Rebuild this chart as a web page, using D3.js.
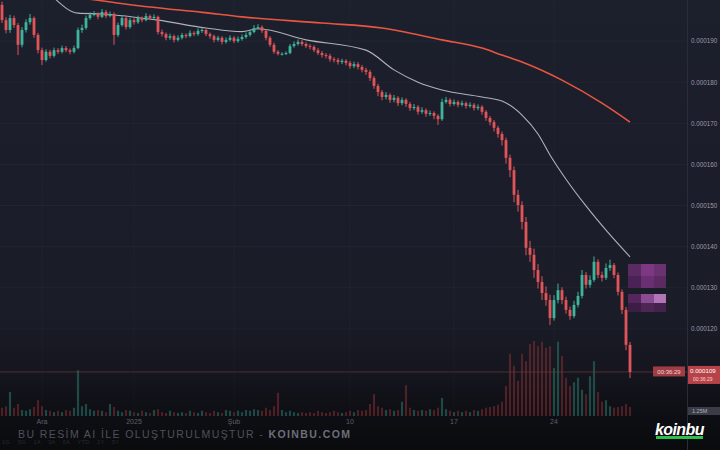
<!DOCTYPE html>
<html><head><meta charset="utf-8">
<script src="https://cdn.jsdelivr.net/npm/d3@7"></script>
<style>html,body{margin:0;padding:0;background:#0b0c10;}svg{display:block;}</style>
</head><body>
<svg id="c" width="720" height="450"></svg>
<script>
// ---- data (price in units of 1e-6) ----
const firstOpen = 198.8;
const closes = [195.1,192.7,195.6,193.9,189.1,192.7,194.6,195.6,191.5,187.8,
185.4,187.4,186.4,187.8,187.4,188.3,187.8,187.4,188.3,192.7,
193.2,195.6,196.4,196.6,195.9,197.1,196.1,196.6,191.5,193.9,
195.6,193.4,195.1,194.6,195.6,195.1,196.1,195.6,195.9,192.2,
191.7,190.8,191.2,190.3,190.8,191.5,191.2,192.0,191.7,192.5,
192.7,191.7,191.2,190.3,190.8,189.8,190.3,190.8,190.0,190.5,
191.0,191.5,192.2,193.2,193.4,192.5,190.8,189.1,187.4,186.9,
186.9,187.1,188.8,189.3,189.8,189.3,188.8,188.6,187.8,187.1,
186.6,186.4,185.6,185.4,184.9,185.2,184.7,183.9,184.4,183.7,
183.0,182.5,181.0,179.1,177.6,176.4,176.9,175.7,176.2,174.9,
175.7,174.7,173.7,174.0,172.8,173.2,172.3,172.5,171.8,171.0,
175.2,175.7,174.7,175.2,174.5,174.9,174.2,174.5,173.7,174.0,
172.8,171.3,170.3,168.9,167.4,165.9,161.6,158.6,152.6,150.1,
146.0,139.7,138.0,134.3,131.4,128.7,127.0,122.6,127.0,129.4,
127.0,124.6,123.1,125.8,128.0,133.1,130.7,131.9,136.3,133.1,
132.4,134.8,135.5,133.1,129.0,124.6,116.1,109.5];
const highs = [199.6,195.8,196.4,196.2,194.4,193.4,195.3,196.6,196.0,192.0,
188.4,188.0,187.9,188.4,188.3,188.9,188.8,188.2,188.9,193.3,
194.0,196.2,197.0,197.3,197.0,197.8,197.6,197.2,197.0,194.5,
196.2,196.0,195.7,195.6,196.2,196.0,196.8,196.5,196.5,196.2,
192.8,192.1,191.8,191.6,191.4,192.0,191.9,192.6,192.4,193.1,
193.3,193.0,192.1,191.6,191.3,191.2,190.9,191.4,191.2,191.1,
191.6,192.1,192.8,193.9,194.1,193.8,192.9,191.2,189.6,187.8,
187.3,187.5,189.3,189.9,190.4,190.3,189.7,189.3,189.0,188.3,
187.6,187.1,186.9,186.1,185.9,185.7,185.6,185.2,185.0,184.9,
184.2,183.5,183.0,181.5,179.6,178.1,177.6,177.3,176.9,176.6,
176.3,176.1,175.2,174.7,174.4,173.9,173.6,173.1,172.9,172.2,
176.0,176.4,176.1,175.8,175.6,175.5,175.3,175.1,174.9,174.6,
174.4,173.2,171.8,170.8,169.4,168.0,166.5,162.4,159.5,153.8,
151.0,147.2,141.4,139.5,135.8,132.8,130.3,128.3,128.2,131.0,
130.1,127.8,125.4,126.8,129.0,134.3,133.8,133.0,137.6,136.9,
133.9,135.9,136.8,136.0,133.7,129.6,125.3,116.8];
const lows = [194.4,191.9,192.0,193.2,186.6,188.5,192.1,194.0,190.8,187.0,
184.2,185.0,185.8,186.0,186.9,187.0,187.3,186.8,187.0,188.0,
192.0,192.8,195.2,196.0,195.3,195.6,195.6,195.8,189.1,191.0,
193.5,192.8,193.0,194.0,194.2,194.6,194.8,195.1,195.2,191.6,
191.1,190.2,190.3,189.7,189.9,190.4,190.7,190.9,191.2,191.3,
192.0,191.2,190.6,189.7,189.9,189.2,189.4,189.9,189.5,189.6,
190.1,190.6,191.1,191.9,192.8,192.0,190.2,188.6,186.9,186.5,
186.5,186.6,186.8,188.4,188.9,188.8,188.3,188.0,187.3,186.6,
186.0,185.8,185.0,184.8,184.3,184.4,184.1,183.3,183.4,183.1,
182.4,181.8,180.3,178.4,176.6,175.6,175.8,175.0,175.1,174.2,
174.4,174.0,173.0,173.2,172.1,172.3,171.6,171.8,171.0,169.6,
170.6,174.8,174.1,174.3,173.9,174.1,173.6,173.8,173.1,173.2,
172.1,170.6,169.5,168.0,166.5,164.6,160.2,156.9,150.8,148.5,
144.2,137.9,136.3,132.4,129.8,127.0,125.6,120.9,122.0,126.2,
126.0,123.7,122.2,122.6,125.2,127.4,129.8,130.0,131.4,132.3,
131.5,131.9,134.1,132.3,128.1,123.6,114.8,108.0];
const volumes = [11,13,32,11,16,8,7,9,12,21,
13,8,7,5,7,5,8,7,11,61,
13,16,9,7,8,7,5,16,12,7,
5,8,7,5,4,7,5,4,8,9,
5,4,7,5,4,5,4,7,5,4,
7,5,4,7,5,4,8,7,5,7,
5,8,7,9,8,7,11,8,13,31,
8,5,7,5,4,5,4,5,4,7,
5,4,5,7,5,4,5,7,5,8,
7,8,16,29,13,11,8,9,7,8,
19,41,11,8,7,8,7,9,8,11,
24,9,7,5,7,5,7,5,8,7,
9,11,12,13,15,19,40,83,67,47,
83,73,96,100,93,99,91,93,64,99,
80,51,40,45,51,35,29,53,73,32,
19,21,13,11,12,13,16,12];
const maFastIdx = [13,19,25,39,51,60,64,76,91,98,104,110,120,125,130,134,137,141,146,151,157];
const maFastVal = [200.5,196.8,196.6,195.1,193.2,192.3,193.0,190.3,187.8,183.0,180.0,178.1,176.4,175.4,172.0,167.4,162.3,156.4,149.9,144.0,137.5];
const maSlowIdx = [22,37,50,60,80,95,110,120,125,130,140,150,157];
const maSlowVal = [200.2,198.3,197.0,195.9,194.4,193.2,190.3,188.3,186.6,184.9,180.5,174.9,170.3];
const priceTicks = [190,180,170,160,150,140,130,120];
const timeTickIdx = [10,33,58,87,113,138];
const timeTickLabels = ["Ara","2025","Şub","10","17","24"];
const lastPrice = 109.5;
const countdown = "00:36:29";
const volumeLabel = "1.25M";

// ---- layout ----
const svg = d3.select("#c");
const plotRight = 687;
const x = d3.scaleLinear().domain([0, closes.length - 1]).range([2, 630]);
const y = d3.scaleLinear().domain([200, 100]).range([0, 411]);
const yv = d3.scaleLinear().domain([0, 100]).range([416, 341]);
const UP = "#3db49b", DOWN = "#e0545a";
const fmt = d => (d * 1e-6).toFixed(6);

const defs = svg.append("defs");
const bg = defs.append("linearGradient").attr("id","bg").attr("gradientUnits","userSpaceOnUse")
  .attr("x1",0).attr("y1",0).attr("x2",0).attr("y2",450);
[[0,"#1c1f2c"],[0.70,"#1a1c28"],[0.84,"#14151d"],[0.92,"#0e0f14"],[1,"#0a0b0e"]]
  .forEach(([o,c]) => bg.append("stop").attr("offset",o).attr("stop-color",c));
defs.append("filter").attr("id","soft").append("feGaussianBlur").attr("stdDeviation",0.45);
defs.append("clipPath").attr("id","clip").append("rect").attr("x",0).attr("y",0).attr("width",plotRight).attr("height",418);

svg.append("rect").attr("width",720).attr("height",450).attr("fill","url(#bg)");

// grid
const grid = svg.append("g");
grid.selectAll("line.h").data(priceTicks).join("line")
  .attr("x1",0).attr("x2",plotRight).attr("y1",d=>y(d)).attr("y2",d=>y(d))
  .attr("stroke","#ffffff").attr("stroke-opacity",0.03);
grid.selectAll("line.v").data(timeTickIdx).join("line")
  .attr("x1",d=>x(d)).attr("x2",d=>x(d)).attr("y1",0).attr("y2",416)
  .attr("stroke","#ffffff").attr("stroke-opacity",0.025);
svg.append("line").attr("x1",plotRight+0.5).attr("x2",plotRight+0.5).attr("y1",0).attr("y2",450)
  .attr("stroke","#2a2d39");

const opens = closes.map((c,i) => i === 0 ? firstOpen : closes[i-1]);
const data = closes.map((c,i) => ({i, o:opens[i], h:highs[i], l:lows[i], c, v:volumes[i]}));

const marks = svg.append("g").attr("clip-path","url(#clip)").append("g").attr("filter","url(#soft)");

// volume
marks.append("g").selectAll("rect").data(data).join("rect")
  .attr("x", d => x(d.i) - 1.1).attr("width", 2.2)
  .attr("y", d => yv(d.v)).attr("height", d => yv(0) - yv(d.v))
  .attr("fill", d => d.c >= d.o ? "#2f7f72" : "#8a2f38").attr("fill-opacity", 0.5);

// last price line
marks.append("line").attr("x1",0).attr("x2",plotRight).attr("y1",y(lastPrice)).attr("y2",y(lastPrice))
  .attr("stroke","#7a3a40").attr("stroke-opacity",0.6).attr("stroke-width",1);

// moving averages
const line = d3.line().x(d => x(d[0])).y(d => y(d[1])).curve(d3.curveMonotoneX);
marks.append("path").datum(maSlowIdx.map((d,k)=>[d, maSlowVal[k]])).attr("d", line)
  .attr("fill","none").attr("stroke","#e8553f").attr("stroke-width",1.6);
marks.append("path").datum(maFastIdx.map((d,k)=>[d, maFastVal[k]])).attr("d", line)
  .attr("fill","none").attr("stroke","#c9cad3").attr("stroke-width",1.1).attr("stroke-opacity",0.85);

// candles
const cg = marks.append("g");
cg.selectAll("line").data(data).join("line")
  .attr("x1", d => x(d.i)).attr("x2", d => x(d.i))
  .attr("y1", d => y(d.h)).attr("y2", d => y(d.l))
  .attr("stroke", d => d.c >= d.o ? UP : DOWN).attr("stroke-width", 1);
cg.selectAll("rect").data(data).join("rect")
  .attr("x", d => x(d.i) - 1.4).attr("width", 2.8)
  .attr("y", d => y(Math.max(d.o, d.c)))
  .attr("height", d => Math.max(1, Math.abs(y(d.o) - y(d.c))))
  .attr("fill", d => d.c >= d.o ? UP : DOWN);

// censored purple blocks
const pb = [[628,264,13,12,"#5c2a62"],[641,264,13,12,"#7d3884"],[654,264,12,12,"#6a3070"],
            [628,276,13,12,"#4c2454"],[641,276,13,12,"#6a2f72"],[654,276,12,12,"#5a2a60"],
            [628,294,13,9,"#55285c"],[641,294,13,9,"#8a4c92"],[654,294,12,9,"#b274b8"],
            [628,303,13,9,"#3c1e44"],[641,303,13,9,"#4e2656"],[654,303,12,9,"#44224c"]];
svg.append("g").attr("filter","url(#soft)").selectAll("rect").data(pb).join("rect")
  .attr("x",d=>d[0]).attr("y",d=>d[1]).attr("width",d=>d[2]).attr("height",d=>d[3]).attr("fill",d=>d[4]);

// right axis labels
svg.append("g").selectAll("text").data(priceTicks).join("text")
  .attr("x", 691).attr("y", d => y(d) + 2.3)
  .attr("font-family","Liberation Sans, Arial, sans-serif").attr("font-size",6.3)
  .attr("fill","#9a9ca6").text(fmt);

// bottom time labels
svg.append("g").selectAll("text").data(timeTickIdx).join("text")
  .attr("x", d => x(d)).attr("y", 424).attr("text-anchor","middle")
  .attr("font-family","Liberation Sans, Arial, sans-serif").attr("font-size",7)
  .attr("fill","#5c5f6a").text((d,k) => timeTickLabels[k]);

// price tags
svg.append("rect").attr("x",653).attr("y",y(lastPrice)-5.5).attr("width",32).attr("height",10).attr("fill","#b8434a").attr("opacity",0.85);
svg.append("text").attr("x",669).attr("y",y(lastPrice)+2).attr("text-anchor","middle")
  .attr("font-family","Liberation Sans, Arial, sans-serif").attr("font-size",6).attr("fill","#f3d6d8").text(countdown);
svg.append("rect").attr("x",688).attr("y",y(lastPrice)-6).attr("width",32).attr("height",18).attr("fill","#c9474d").attr("opacity",0.9);
svg.append("text").attr("x",690).attr("y",y(lastPrice)+1.5)
  .attr("font-family","Liberation Sans, Arial, sans-serif").attr("font-size",6.2).attr("fill","#ffffff").text(fmt(lastPrice));
svg.append("text").attr("x",693).attr("y",y(lastPrice)+9)
  .attr("font-family","Liberation Sans, Arial, sans-serif").attr("font-size",5).attr("fill","#f3d6d8").text(countdown);
svg.append("rect").attr("x",688).attr("y",407).attr("width",32).attr("height",8).attr("fill","#3a3d48");
svg.append("text").attr("x",692).attr("y",413)
  .attr("font-family","Liberation Sans, Arial, sans-serif").attr("font-size",5.5).attr("fill","#b0b2ba").text(volumeLabel);

// faint range buttons bottom-left
svg.append("text").attr("x",2).attr("y",444)
  .attr("font-family","Liberation Sans, Arial, sans-serif").attr("font-size",6).attr("fill","#26282f")
  .attr("word-spacing",6).text("1G 5G 1A 3A 6A YTD 1Y 5Y");

// watermark
const wm = svg.append("text").attr("x",18).attr("y",438)
  .attr("font-family","Liberation Sans, Arial, sans-serif").attr("font-size",10.5)
  .attr("letter-spacing",2).attr("textLength",334).attr("lengthAdjust","spacing");
wm.append("tspan").attr("fill","#4e515c").text("BU RESİM AI İLE OLUŞTURULMUŞTUR - ");
wm.append("tspan").attr("fill","#6c6f7a").attr("font-weight","bold").text("KOINBU.COM");

// logo
svg.append("text").attr("x",655).attr("y",435)
  .attr("font-family","Liberation Sans, Arial, sans-serif").attr("font-size",16).attr("font-weight","bold")
  .attr("font-style","italic").attr("letter-spacing",-0.6).attr("fill","#ffffff").text("koinbu");
svg.append("rect").attr("x",656).attr("y",436).attr("width",47).attr("height",3).attr("fill","#2fbf4a");
</script>
</body></html>
